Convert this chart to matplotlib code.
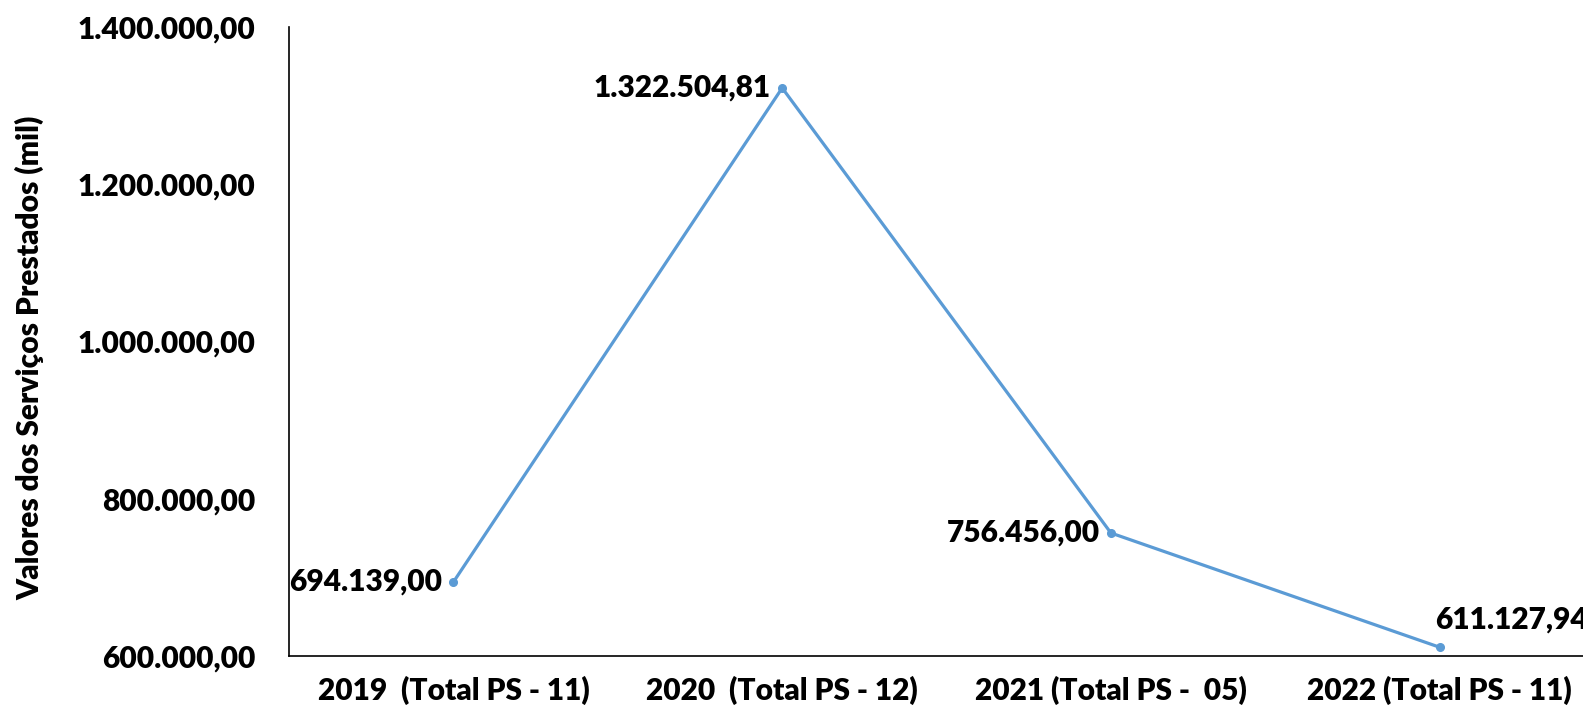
import matplotlib.pyplot as plt
from matplotlib.ticker import FuncFormatter

categories = ["2019  (Total PS - 11)", "2020  (Total PS - 12)",
              "2021 (Total PS -  05)", "2022 (Total PS - 11)"]
values = [694139.00, 1322504.81, 756456.00, 611127.94]
yticks = [600000, 800000, 1000000, 1200000, 1400000]

plt.rcParams['font.family'] = ['Lato', 'DejaVu Sans']
W = 'heavy'
FS = 21.5


def br_fmt(v, pos=None):
    s = f"{v:,.2f}"
    return s.replace(",", "X").replace(".", ",").replace("X", ".")


fig = plt.figure(figsize=(15.83, 7.15), dpi=100)
ax = fig.add_axes([0.1826, 0.0825, 0.8307, 0.8797])
x = list(range(len(categories)))
ax.plot(x, values, color='#5B9BD5', lw=2.3, marker='o', ms=5.5, clip_on=False)

ax.set_xlim(-0.5, 3.5)
ax.set_ylim(600000, 1400000)
ax.set_yticks(yticks)
ax.yaxis.set_major_formatter(FuncFormatter(br_fmt))
ax.set_xticks(x)
ax.set_xticklabels(categories)
ax.tick_params(axis='y', length=0, pad=24, labelsize=FS)
ax.tick_params(axis='x', length=0, pad=14, labelsize=FS)
for lab in ax.get_xticklabels() + ax.get_yticklabels():
    lab.set_fontweight(W)

for s in ['top', 'right']:
    ax.spines[s].set_visible(False)
ax.spines['left'].set_linewidth(1.2)
ax.spines['bottom'].set_linewidth(1.2)

ax.set_ylabel("Valores dos Serviços Prestados (mil)", fontsize=21.5, fontweight=W)
ax.yaxis.set_label_coords(-0.186, 0.474)

# data labels
for i, v in enumerate(values):
    if i == 3:
        ax.annotate(br_fmt(v), (i, v), xytext=(-3, 10), textcoords='offset points',
                    ha='left', va='bottom', fontsize=FS, fontweight=W,
                    annotation_clip=False)
    else:
        ax.annotate(br_fmt(v), (i, v), xytext=(-8, 0), textcoords='offset points',
                    ha='right', va='center', fontsize=FS, fontweight=W)

fig.savefig("out.png", dpi=100)
